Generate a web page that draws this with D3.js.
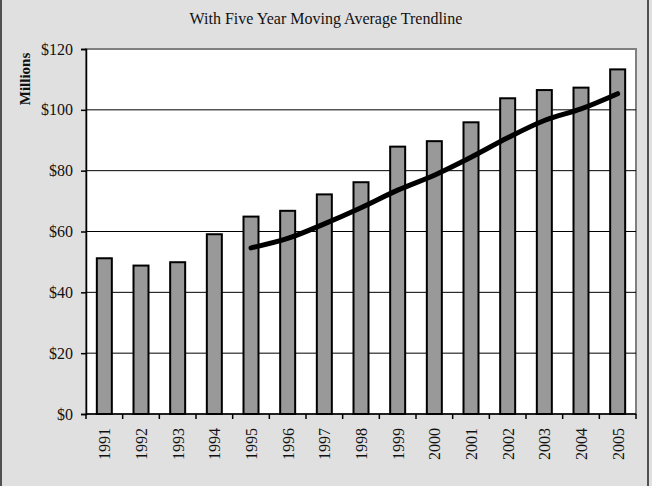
<!DOCTYPE html>
<html>
<head>
  <meta charset="utf-8">
  <script src="https://d3js.org/d3.v7.min.js"></script>
  <style>
    html, body { margin: 0; padding: 0; background: #e0e0e0; }
    svg { display: block; }
    text { font-family: "Liberation Serif", "Times New Roman", serif; fill: #111; }
  </style>
</head>
<body>
  <svg width="652" height="486"></svg>
  <script>
    // values (millions of dollars)
    const years = ["1991","1992","1993","1994","1995","1996","1997","1998","1999","2000","2001","2002","2003","2004","2005"];
    const revenue = [51.2, 48.8, 49.9, 59.1, 64.9, 66.8, 72.2, 76.2, 87.9, 89.7, 95.9, 103.8, 106.5, 107.3, 113.3];
    // five year moving average, starts in 1995
    const avgYears = ["1995","1996","1997","1998","1999","2000","2001","2002","2003","2004","2005"];
    const movingAvg = [54.6, 57.7, 62.5, 67.8, 73.6, 78.5, 84.4, 90.8, 96.5, 100.3, 105.3];
    const yTicks = [0, 20, 40, 60, 80, 100, 120];

    const svg = d3.select("svg");
    const m = { left: 86, right: 636, top: 49, bottom: 414 };

    // outer frame
    svg.append("rect")
      .attr("x", 1).attr("y", -3).attr("width", 647).attr("height", 495)
      .attr("fill", "#e0e0e0").attr("stroke", "#222").attr("stroke-width", 1.5);

    svg.append("text")
      .attr("x", 326).attr("y", 24)
      .attr("text-anchor", "middle")
      .style("font-size", "16px")
      .text("With Five Year Moving Average Trendline");

    const x = d3.scaleBand().domain(years).range([m.left, m.right]);
    const y = d3.scaleLinear().domain([0, 120]).range([m.bottom, m.top]);

    // plot area
    svg.append("rect")
      .attr("x", m.left).attr("y", m.top)
      .attr("width", m.right - m.left).attr("height", m.bottom - m.top)
      .attr("fill", "#fff").attr("stroke", "#808080").attr("stroke-width", 2);

    // gridlines
    svg.append("g").selectAll("line")
      .data(yTicks.filter(d => d > 0 && d < 120))
      .join("line")
        .attr("x1", m.left).attr("x2", m.right)
        .attr("y1", d => y(d)).attr("y2", d => y(d))
        .attr("stroke", "#000").attr("stroke-width", 1);

    // bars
    const bw = 15;
    svg.append("g").selectAll("rect")
      .data(years)
      .join("rect")
        .attr("x", (d) => x(d) + x.bandwidth() / 2 - bw / 2)
        .attr("y", (d, i) => y(revenue[i]))
        .attr("width", bw)
        .attr("height", (d, i) => y(0) - y(revenue[i]))
        .attr("fill", "#999999")
        .attr("stroke", "#000")
        .attr("stroke-width", 2);

    // moving average line
    const line = d3.line()
      .x((d, i) => x(avgYears[i]) + x.bandwidth() / 2)
      .y(d => y(d))
      .curve(d3.curveMonotoneX);
    svg.append("path")
      .datum(movingAvg)
      .attr("d", line)
      .attr("fill", "none")
      .attr("stroke", "#000")
      .attr("stroke-width", 5)
      .attr("stroke-linecap", "round");

    // y axis
    const yAxis = svg.append("g")
      .attr("transform", `translate(${m.left},0)`)
      .call(d3.axisLeft(y).tickValues(yTicks).tickFormat(d => "$" + d).tickSize(5).tickPadding(8));
    yAxis.select(".domain").attr("stroke", "#000").attr("stroke-width", 1.5);
    yAxis.selectAll(".tick line").attr("stroke", "#000").attr("stroke-width", 1.5);
    yAxis.selectAll("text")
      .style("font-family", "'Liberation Serif', serif")
      .style("font-size", "16px").attr("fill", "#111");

    // x axis: ticks at band edges
    const xAxis = svg.append("g")
      .attr("transform", `translate(0,${m.bottom})`);
    xAxis.append("line")
      .attr("x1", m.left).attr("x2", m.right)
      .attr("stroke", "#000").attr("stroke-width", 1.5);
    xAxis.selectAll("line.tk")
      .data(years.concat(["end"]))
      .join("line")
        .attr("class", "tk")
        .attr("x1", (d, i) => i < years.length ? x(d) : x(years[years.length - 1]) + x.bandwidth())
        .attr("x2", (d, i) => i < years.length ? x(d) : x(years[years.length - 1]) + x.bandwidth())
        .attr("y1", 0).attr("y2", 5)
        .attr("stroke", "#000").attr("stroke-width", 1.5);
    xAxis.selectAll("text")
      .data(years)
      .join("text")
        .attr("transform", d => `translate(${x(d) + x.bandwidth() / 2 + 6},14) rotate(-90)`)
        .attr("text-anchor", "end")
        .style("font-size", "16px")
        .text(d => d);

    // y axis title
    svg.append("text")
      .attr("transform", "translate(30,79) rotate(-90)")
      .attr("text-anchor", "middle")
      .style("font-size", "15px")
      .style("font-weight", "bold")
      .text("Millions");
  </script>
</body>
</html>
